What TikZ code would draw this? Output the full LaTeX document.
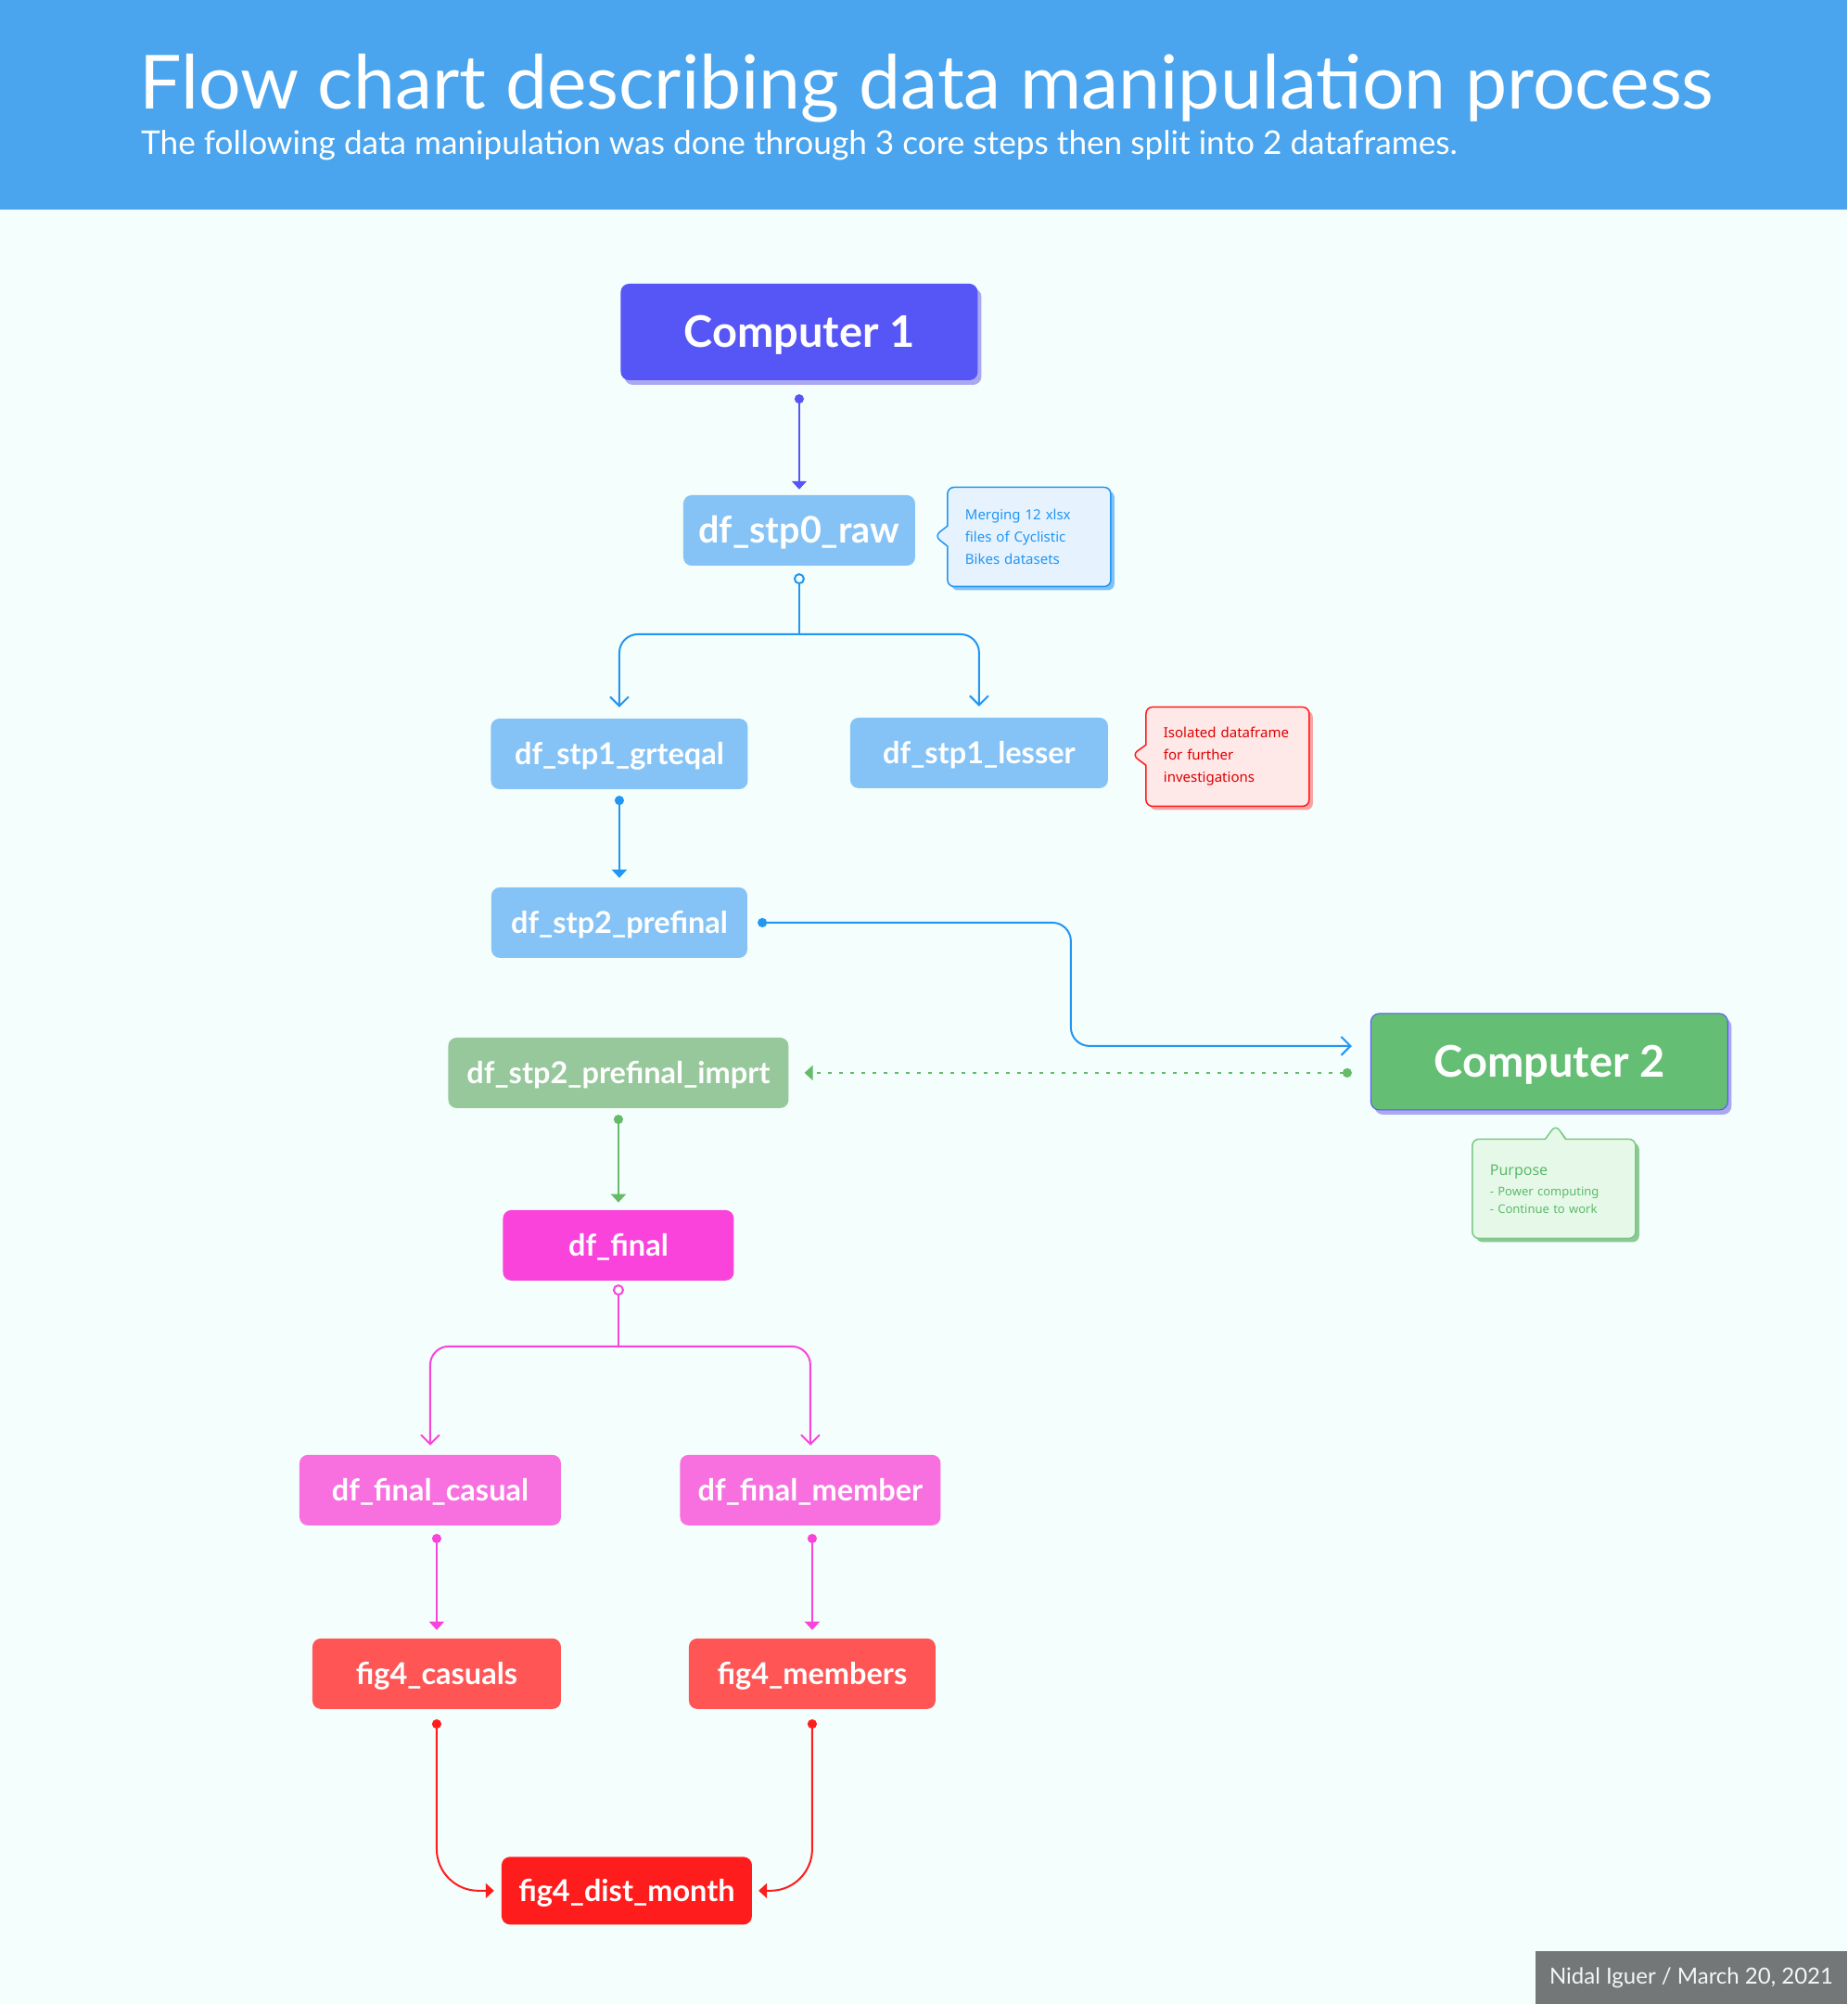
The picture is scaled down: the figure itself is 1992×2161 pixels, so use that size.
\documentclass[tikz,border=0pt]{standalone}
\usepackage{fontspec}
\setmainfont{Lato}
\newfontfamily\notefont{Noto Sans}
\usetikzlibrary{positioning}
\usetikzlibrary{arrows.meta}
\usetikzlibrary{shapes.callouts}
\usetikzlibrary{shadows}

\definecolor{bgmint}{RGB}{244,254,252}
\definecolor{headblue}{RGB}{74,165,238}
\definecolor{violet1}{RGB}{86,85,245}
\definecolor{lavender1}{RGB}{170,168,240}
\definecolor{skyblue}{RGB}{133,195,246}
\definecolor{linkblue}{RGB}{33,150,243}
\definecolor{bluenote}{RGB}{230,242,254}
\definecolor{blueshadow}{RGB}{130,192,246}
\definecolor{rednote}{RGB}{255,232,232}
\definecolor{redtext}{RGB}{222,0,0}
\definecolor{redshadow}{RGB}{244,166,166}
\definecolor{green1}{RGB}{100,190,115}
\definecolor{sage}{RGB}{150,200,155}
\definecolor{linkgreen}{RGB}{102,187,106}
\definecolor{greennote}{RGB}{230,249,232}
\definecolor{greenborder}{RGB}{125,200,135}
\definecolor{greentext}{RGB}{93,185,106}
\definecolor{greenshadow}{RGB}{141,201,149}
\definecolor{magenta1}{RGB}{250,67,218}
\definecolor{pink1}{RGB}{248,112,224}
\definecolor{coral}{RGB}{255,85,85}
\definecolor{red1}{RGB}{255,28,28}
\definecolor{footgray}{RGB}{115,119,119}

\begin{document}
\begin{tikzpicture}[
    x=1pt, y=-1pt,
    box/.style={
        rectangle, rounded corners=9pt, inner sep=0pt,
        minimum width=#1, minimum height=76pt,
        text height=23pt, text depth=0pt,
        text=white, font=\bfseries\fontsize{32.5}{38}\selectfont
    },
    computer/.style={
        rectangle, rounded corners=9pt, inner sep=0pt,
        minimum width=385pt, minimum height=104pt,
        text height=33pt, text depth=0pt,
        text=white, font=\bfseries\fontsize{47}{56}\selectfont,
        drop shadow={shadow xshift=4pt, shadow yshift=-5pt, opacity=1, fill=lavender1}
    },
    note/.style={
        rectangle callout, rounded corners=7pt, callout pointer width=22pt,
        line width=1.5pt, inner xsep=19pt, text width=138pt, minimum height=107pt,
        align=left, font=\notefont\fontsize{15}{24}\selectfont
    },
    dotlink/.style={line width=2pt, {Circle[length=10pt]}-{Triangle[length=9pt,width=16pt]}},
    dotbarb/.style={line width=2pt, rounded corners=20pt, {Circle[length=10pt]}-{Straight Barb[length=10pt,width=20pt]}},
    stem/.style={line width=2pt, {Circle[open,fill=bgmint,length=12pt]}-},
    branch/.style={line width=2pt, rounded corners=20pt, -{Straight Barb[length=10pt,width=20pt]}}
]
\fill[bgmint] (0,0) rectangle (1992,2161);
\fill[headblue] (0,0) rectangle (1992,226);
\node[anchor=base west, inner sep=0pt, text=white, font=\fontsize{80.5}{92}\selectfont] (title) at (150,118)
    {Flow chart describing data manipulation process};
\node[anchor=base west, inner sep=0pt, text=white, font=\fontsize{35.2}{42}\selectfont] (subtitle) at (152,167)
    {The following data manipulation was done through 3 core steps then split into 2 dataframes.};

\node[computer, fill=violet1] (comp1) at (862,358) {Computer 1};
\node[box=250pt, fill=skyblue, text height=28pt, font=\bfseries\fontsize{39.5}{46}\selectfont] (stp0) at (862,572) {df\_stp0\_raw};
\node[note, fill=bluenote, draw=linkblue, text=linkblue, callout absolute pointer={(1008,578)},
    drop shadow={shadow xshift=4pt, shadow yshift=-4pt, opacity=1, fill=blueshadow}] (note0) at (1110,579)
    {Merging 12 xlsx\\files of Cyclistic\\Bikes datasets};
\node[box=277pt, fill=skyblue] (grt) at (668,813) {df\_stp1\_grteqal};
\node[box=278pt, fill=skyblue] (less) at (1056,812) {df\_stp1\_lesser};
\node[note, fill=rednote, draw=red1, text=redtext, callout absolute pointer={(1221,814)},
    drop shadow={shadow xshift=4pt, shadow yshift=-4pt, opacity=1, fill=redshadow}] (note1) at (1324,816)
    {Isolated~dataframe\\for further\\investigations};
\node[box=276pt, fill=skyblue] (pre) at (668,995) {df\_stp2\_prefinal};
\node[computer, fill=green1, draw=violet1, line width=1pt] (comp2) at (1671,1145) {Computer 2};
\node[note, fill=greennote, draw=greenborder, text=greentext, callout absolute pointer={(1678,1213)},
    font=\notefont\fontsize{13}{19}\selectfont,
    drop shadow={shadow xshift=4pt, shadow yshift=-4pt, opacity=1, fill=greenshadow}] (note2) at (1676,1282)
    {{\fontsize{16}{19}\selectfont Purpose}\\[3pt]- Power computing\\- Continue to work};
\node[box=367pt, fill=sage] (imprt) at (667,1157) {df\_stp2\_prefinal\_imprt};
\node[box=249pt, fill=magenta1] (final) at (667,1343) {df\_final};
\node[box=282pt, fill=pink1] (casual) at (464,1607) {df\_final\_casual};
\node[box=281pt, fill=pink1] (member) at (874,1607) {df\_final\_member};
\node[box=268pt, fill=coral] (figc) at (471,1805) {fig4\_casuals};
\node[box=266pt, fill=coral] (figm) at (876,1805) {fig4\_members};
\node[box=270pt, fill=red1, minimum height=73pt] (dist) at (676,2039) {fig4\_dist\_month};
\node[anchor=north west, fill=footgray, text=white!93!gray, minimum width=336pt, minimum height=57pt,
    inner sep=0pt, font=\fontsize{24}{28}\selectfont] (credit) at (1656,2104) {Nidal Iguer / March 20, 2021};

\coordinate (fork0) at (862,684);
\coordinate (bend2) at (1155,1128);
\coordinate (fork1) at (667,1452);

\draw[dotlink, violet1, shorten <=15pt, shorten >=6pt] (comp1) -- (stp0);
\draw[stem, linkblue, shorten <=8pt] (stp0) -- (fork0);
\draw[branch, linkblue, shorten >=12pt] (fork0) -| (grt);
\draw[branch, linkblue, shorten >=12pt] (fork0) -| (less);
\draw[dotlink, linkblue, shorten <=7pt, shorten >=10pt] (grt) -- (pre);
\draw[dotbarb, linkblue, shorten <=11pt, shorten >=20pt] (pre) -| (bend2) -- (comp2.west |- bend2);
\draw[dotlink, linkgreen, dash pattern=on 4pt off 8pt, shorten <=20pt, shorten >=17pt] (comp2.west |- imprt) -- (imprt);
\draw[dotlink, linkgreen, shorten <=7pt, shorten >=8pt] (imprt) -- (final);
\draw[stem, magenta1, shorten <=4pt] (final) -- (fork1);
\draw[branch, magenta1, shorten >=10pt] (fork1) -| (casual);
\draw[branch, magenta1, shorten >=10pt] (fork1) -| (member);
\draw[dotlink, magenta1, shorten <=9pt, shorten >=9pt] (figc |- casual.south) -- (figc);
\draw[dotlink, magenta1, shorten <=9pt, shorten >=9pt] (figm |- member.south) -- (figm);
\draw[dotlink, red1, rounded corners=45pt, shorten <=11pt, shorten >=8pt] (figc) |- (dist);
\draw[dotlink, red1, rounded corners=45pt, shorten <=11pt, shorten >=7pt] (figm) |- (dist);
\end{tikzpicture}
\end{document}
